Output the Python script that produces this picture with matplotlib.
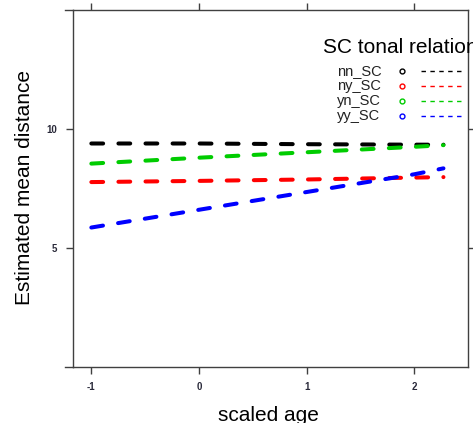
import matplotlib
matplotlib.use("Agg")
import matplotlib.pyplot as plt
from matplotlib.lines import Line2D

# data
age = [-1.0, 0.0, 1.0, 2.0, 2.27]
groups = ["nn_SC", "ny_SC", "yn_SC", "yy_SC"]
nn_sc = [9.40, 9.40, 9.37, 9.35, 9.35]
ny_sc = [7.77, 7.82, 7.88, 7.96, 7.98]
yn_sc = [8.55, 8.80, 9.03, 9.26, 9.33]
yy_sc = [5.85, 6.60, 7.35, 8.10, 8.35]
colors = ["black", "#ff0000", "#00cc00", "#0000ff"]
x_ticks = [-1, 0, 1, 2]
y_ticks = [5, 10]

plt.rcParams["font.family"] = ["Liberation Sans", "DejaVu Sans"]
plt.rcParams["lines.scale_dashes"] = False
plt.rcParams["axes.unicode_minus"] = False

W, H = 473, 423
fig = plt.figure(figsize=(W / 100, H / 100), dpi=100)
left, right, top, bottom = 72.7, 468, 10, 366.7
ax = fig.add_axes([left / W, 1 - bottom / H, (right - left) / W, (bottom - top) / H])

for vals, c in zip([nn_sc, ny_sc, yn_sc, yy_sc], colors):
    ax.plot(age, vals, color=c, lw=2.9, dashes=(8.5, 11), dash_capstyle="round")

ax.set_xlim(-1.173, 2.498)
ax.set_ylim(-0.03, 15.04)
ax.set_xticks(x_ticks)
ax.set_yticks(y_ticks)
ax.tick_params(axis="both", direction="out", length=5, width=1, color="#404040",
               labelsize=7, labelcolor="#2a2a3a", top=True, right=True, pad=6)
ax.tick_params(axis="x", labeltop=False)
ax.tick_params(axis="y", labelright=False)
for lab in ax.get_xticklabels() + ax.get_yticklabels():
    lab.set_fontweight("bold")
for s in ax.spines.values():
    s.set_color("#404040")
    s.set_linewidth(1)

# top and bottom borders stick out a bit on the left, as in the reference
for yy in (top, bottom):
    fig.add_artist(Line2D([65 / W, left / W], [1 - yy / H, 1 - yy / H],
                          color="#404040", lw=1, transform=fig.transFigure))

fig.text(25 / W, 1 - 187 / H, "Estimated mean distance", rotation=90,
         ha="center", va="center", fontsize=15)
fig.text(268 / W, 1 - 421 / H, "scaled age", ha="center", va="baseline", fontsize=15)

# legend drawn by hand: label, open circle, dashed line
fig.text(322.7 / W, 1 - 53 / H, "SC tonal relation", ha="left", va="baseline",
         fontsize=15, zorder=1)
for i, (g, c) in enumerate(zip(groups, colors)):
    yc = 1 - (70.7 + i * 15.2) / H
    fig.text(336.7 / W, yc, g, ha="left", va="center", fontsize=10.5, color="#222222")
    fig.add_artist(Line2D([401.7 / W], [yc], marker="o", ms=3.5, mfc="none",
                          mec=c, mew=1, transform=fig.transFigure))
    fig.add_artist(Line2D([421 / W, 462 / W], [yc, yc], color=c, lw=1,
                          dashes=(3.2, 3.2), transform=fig.transFigure))

fig.savefig("out.png", dpi=100)
